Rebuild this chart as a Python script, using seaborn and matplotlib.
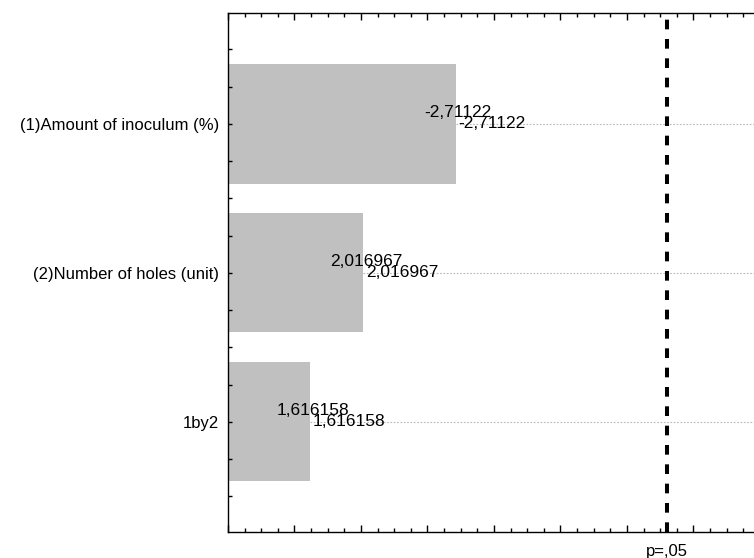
import matplotlib
matplotlib.use("Agg")
import matplotlib.pyplot as plt
import matplotlib.transforms as mtransforms
from matplotlib.ticker import MultipleLocator, NullFormatter
import seaborn as sns
import pandas as pd

# ---- data ----
effects = ["(1)Amount of inoculum (%)", "(2)Number of holes (unit)", "1by2"]
t_values = [-2.71122, 2.016967, 1.616158]
value_labels = ["-2,71122", "2,016967", "1,616158"]
p_critical = 4.302653
p_label = "p=,05"

sns.set_theme(style="white")
plt.rcParams['font.family'] = ['Liberation Sans', 'DejaVu Sans']

df = pd.DataFrame({"effect": effects, "t": t_values})
df["abs_t"] = df["t"].abs()

W, H = 754, 558
fig = plt.figure(figsize=(W / 100, H / 100), dpi=100)
x0, y_top, y_bot = 228, 13, 532
xmin, xmax = 1.0, 5.5
ppu = 133.0
ax = fig.add_axes([x0 / W, (H - y_bot) / H, (xmax - xmin) * ppu / W, (y_bot - y_top) / H])

# dotted guide lines behind bars
for i, v in enumerate(df["abs_t"]):
    ax.hlines(i, v, xmax, colors="#b8b8b8", linestyles=(0, (1.5, 1.5)), linewidth=0.8, zorder=0.5)

sns.barplot(data=df, y="effect", x="abs_t", orient="h", order=effects,
            color="#c0c0c0", saturation=1, width=0.8, linewidth=0, ax=ax, zorder=1)

ax.axvline(p_critical, color="black", lw=2.9, ls=(0, (2.4, 2.4)), zorder=3)

for i, (v, lab) in enumerate(zip(df["abs_t"], value_labels)):
    ax.text(v + 0.02, i - 0.075, lab, ha="center", va="center", fontsize=12.5, color="black", zorder=4)
    ax.text(v + 0.02, i, lab, ha="left", va="center", fontsize=12.5, color="black", zorder=4)

ax.set_xlim(xmin, xmax)
ax.set_ylim(2.74, -0.745)
ax.set_xlabel("")
ax.set_ylabel("")
ax.set_axisbelow(False)

ax.xaxis.set_major_locator(MultipleLocator(0.5))
ax.xaxis.set_minor_locator(MultipleLocator(0.125))
ax.xaxis.set_major_formatter(NullFormatter())
ax.yaxis.set_minor_locator(MultipleLocator(0.25))
ax.tick_params(axis="both", which="both", direction="in", top=True, bottom=True, left=True, right=True,
               color="black", width=1)
ax.tick_params(axis="x", which="major", length=5)
ax.tick_params(axis="x", which="minor", length=3)
ax.tick_params(axis="y", which="both", length=3)
ax.tick_params(axis="y", which="major", labelsize=12, pad=6.5, labelcolor="black")

for s in ax.spines.values():
    s.set_color("black")
    s.set_linewidth(1.0)
    s.set_zorder(5)

trans = mtransforms.blended_transform_factory(ax.transData, ax.transAxes)
ax.text(p_critical, -0.037, p_label, transform=trans, ha="center", va="center", fontsize=12, color="black")

fig.savefig("out.png", dpi=100)
